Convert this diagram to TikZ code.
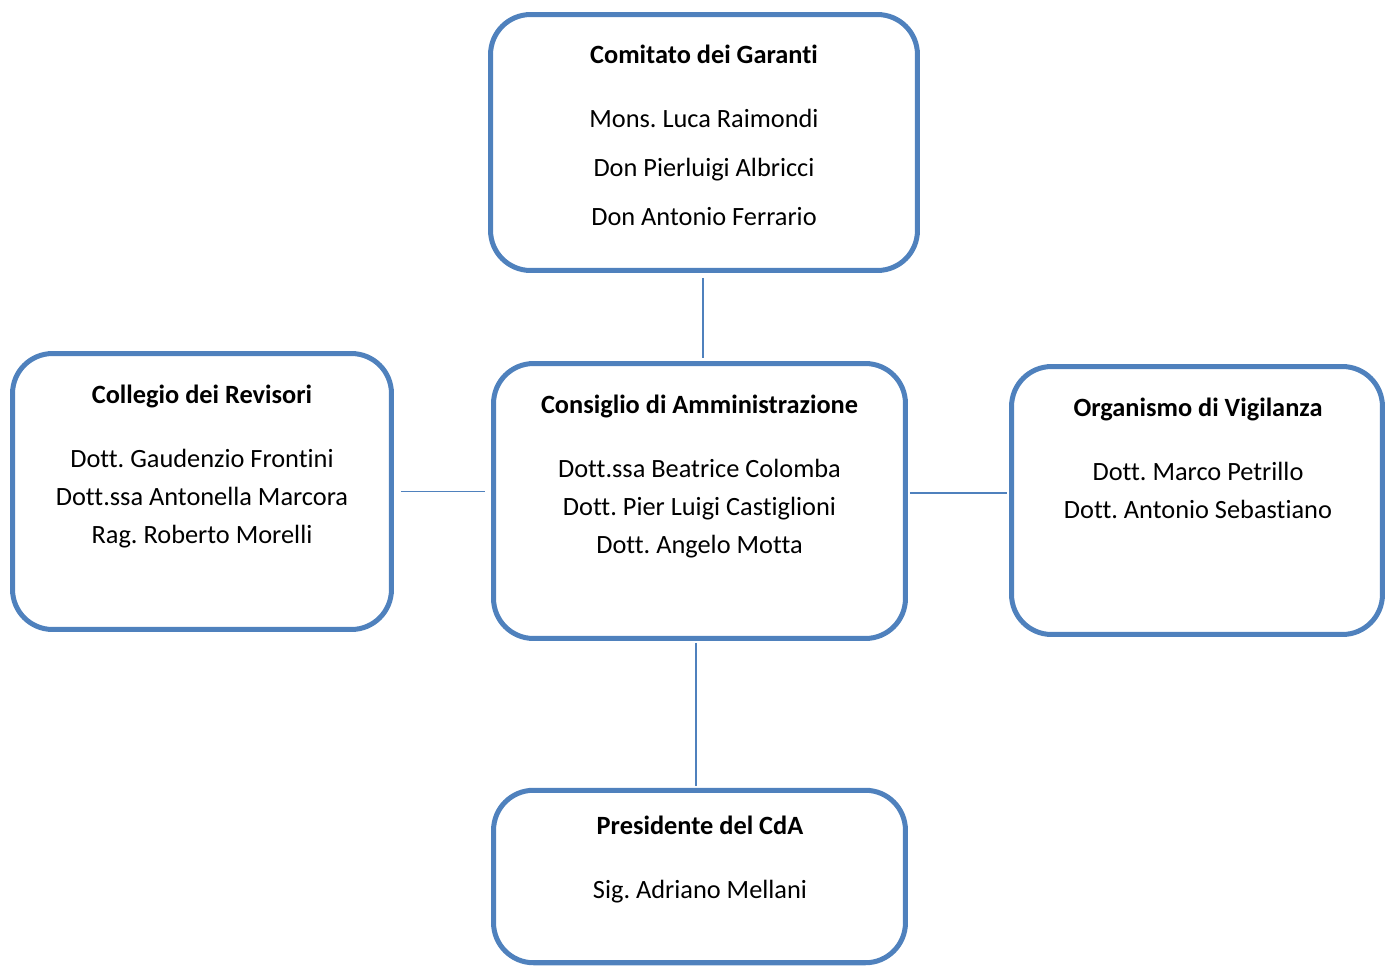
\documentclass[tikz,border=0pt]{standalone}
\usepackage{fontspec}
\setmainfont{Carlito}[Ligatures=NoCommon]
\usepackage{xcolor}
\definecolor{orgblue}{HTML}{4F81BD}
\frenchspacing

\begin{document}
\begin{tikzpicture}[x=0.02cm, y=-0.02cm,
    box/.style={draw=orgblue, line width=2.85pt, rounded corners=0.8cm, inner sep=0pt},
    txt/.style={anchor=north, align=center, inner sep=0pt, font=\fontsize{15}{21.5}\selectfont},
    link/.style={draw=orgblue, line width=1.1pt}]
    \useasboundingbox (0,0) rectangle (1387,965);

    \node[box, minimum width=8.54cm, minimum height=5.12cm] (garanti) at (704,142.5) {};
    \node[box, minimum width=7.58cm, minimum height=5.52cm] (revisori) at (202,491.5) {};
    \node[box, minimum width=8.24cm, minimum height=5.5cm] (consiglio) at (699.5,501) {};
    \node[box, minimum width=7.42cm, minimum height=5.36cm] (vigilanza) at (1197,500.5) {};
    \node[box, minimum width=8.24cm, minimum height=3.45cm] (presidente) at (699.5,876.5) {};

    \node[txt] (garantitxt) at (704,45) {\textbf{Comitato dei Garanti}\\[14.8pt]
        Mons. Luca Raimondi\\[6.3pt] Don Pierluigi Albricci\\[6.3pt] Don Antonio Ferrario};
    \node[txt] (revisoritxt) at (202,385) {\textbf{Collegio dei Revisori}\\[14.8pt]
        Dott. Gaudenzio Frontini\\ Dott.ssa Antonella Marcora\\ Rag. Roberto Morelli};
    \node[txt] (consigliotxt) at (699.5,395) {\textbf{Consiglio di Amministrazione}\\[14.8pt]
        Dott.ssa Beatrice Colomba\\ Dott. Pier Luigi Castiglioni\\ Dott. Angelo Motta};
    \node[txt] (vigilanzatxt) at (1198,398) {\textbf{Organismo di Vigilanza}\\[14.8pt]
        Dott. Marco Petrillo\\ Dott. Antonio Sebastiano};
    \node[txt] (presidentetxt) at (700,816) {\textbf{Presidente del CdA}\\[14.8pt]
        Sig. Adriano Mellani};

    % connectors
    \draw[link, shorten <=0.1cm, shorten >=0.06cm] ([xshift=-0.02cm]garanti.south) -- ([xshift=-0.02cm]garanti.south |- consiglio.north);
    \draw[link, shorten <=0.14cm, shorten >=0.12cm] (revisori.east) -- (revisori.east -| consiglio.west);
    \draw[link, shorten <=0.04cm, shorten >=0.04cm] ([yshift=0.16cm]consiglio.east) -- ([yshift=0.16cm]consiglio.east -| vigilanza.west);
    \draw[link, shorten <=0.04cm, shorten >=0.04cm] ([xshift=-0.07cm]consiglio.south) -- ([xshift=-0.07cm]presidente.north);
\end{tikzpicture}
\end{document}
